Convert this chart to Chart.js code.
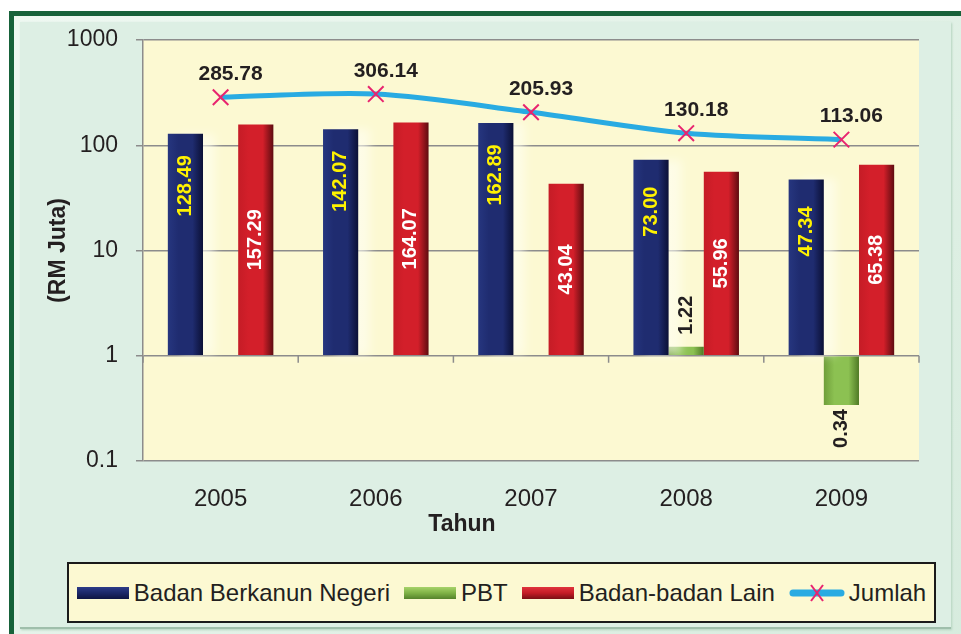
<!DOCTYPE html>
<html>
<head>
<meta charset="utf-8">
<script src="https://cdn.jsdelivr.net/npm/chart.js@4.4.1/dist/chart.umd.min.js"></script>
<style>
html, body { margin: 0; padding: 0; background: #fff; width: 961px; height: 634px; overflow: hidden; font-family: "Liberation Sans", Arial, sans-serif; }
#frame { position: absolute; left: 9px; top: 11px; width: 990px; height: 650px; border-left: 5px solid #17623a; border-top: 5px solid #17623a; background: linear-gradient(135deg, #eef8f1, #d6ebdd); }
#panel { position: absolute; left: 20px; top: 22px; width: 931px; height: 605px; background: #ddefe4; border-bottom: 2px solid #9fbfab; box-shadow: 1px 1px 2px #b4d3bf; }
#wrap { position: absolute; left: 0; top: 0; width: 961px; height: 634px; }
#legend { position: absolute; left: 67px; top: 562px; width: 865px; height: 57px; border: 2px solid #1a1a1a; background: #fcf9d2; display: flex; align-items: center; justify-content: center; font-size: 24px; color: #231f20; white-space: nowrap; }
#legend .sw { display: inline-block; width: 52px; height: 12px; margin-right: 5px; }
#legend .item { display: flex; align-items: center; margin-right: 14px; }
#legend .item:last-child { margin-right: 0; }
</style>
</head>
<body>
<div id="frame"></div>
<div id="panel"></div>
<div id="wrap"><canvas id="myChart" width="961" height="634"></canvas></div>
<div id="legend"></div>
<script>
const years = ['2005', '2006', '2007', '2008', '2009'];
const badanBerkanun = [128.49, 142.07, 162.89, 73.00, 47.34];
const pbt = [null, null, null, 1.22, 0.34];
const badanLain = [157.29, 164.07, 43.04, 55.96, 65.38];
const jumlah = [285.78, 306.14, 205.93, 130.18, 113.06];
const yTicks = [0.1, 1, 10, 100, 1000];

const TEXT = '#231f20';
const GRID = '#8c8c8c';
const CAT_PCT = 0.68;
const FONT = '"Liberation Sans", Arial, sans-serif';

Chart.defaults.font.family = FONT;
Chart.defaults.color = TEXT;

// horizontal gradient per bar, dark right edge like the 3d look
function barFill(edge, mid, dark) {
    return function(c) {
        const ch = c.chart, xs = ch.scales.x;
        if (c.type !== 'data' || !ch.chartArea || !xs) return mid;
        const w = (xs.right - xs.left) / years.length * CAT_PCT / 3;
        const cx = xs.getPixelForValue(c.dataIndex) + (c.datasetIndex - 1) * w;
        const g = ch.ctx.createLinearGradient(cx - w / 2, 0, cx + w / 2, 0);
        g.addColorStop(0, edge);
        g.addColorStop(0.3, mid);
        g.addColorStop(0.7, mid);
        g.addColorStop(1, dark);
        return g;
    };
}

const plotBg = {
    id: 'plotBg',
    beforeDraw(chart) {
        const a = chart.chartArea, ctx = chart.ctx;
        ctx.save();
        ctx.fillStyle = '#fcf9d2';
        ctx.fillRect(a.left, a.top, a.right - a.left, a.bottom - a.top);
        ctx.restore();
    }
};

// category tick marks sit on the value-1 line, x title a bit left of centre
const axisExtras = {
    id: 'axisExtras',
    beforeDatasetsDraw(chart) {
        const xs = chart.scales.x, ys = chart.scales.y, ctx = chart.ctx;
        const y1 = ys.getPixelForValue(1);
        const step = (xs.right - xs.left) / years.length;
        ctx.save();
        ctx.strokeStyle = GRID;
        ctx.lineWidth = 1.5;
        for (let k = 0; k <= years.length; k++) {
            const x = xs.left + k * step;
            ctx.beginPath();
            ctx.moveTo(x, y1);
            ctx.lineTo(x, y1 + 7);
            ctx.stroke();
        }
        ctx.fillStyle = TEXT;
        ctx.font = 'bold 23px ' + FONT;
        ctx.textAlign = 'center';
        ctx.textBaseline = 'middle';
        ctx.fillText('Tahun', (xs.left + xs.right) / 2 - 69, xs.bottom - 16);
        ctx.restore();
    }
};

// soft pale glow to the right of the blue bars
const barGlow = {
    id: 'barGlow',
    beforeDatasetDraw(chart, args) {
        if (args.index !== 0) return;
        const ctx = chart.ctx;
        ctx.save();
        ctx.shadowColor = 'rgba(255,255,245,0.6)';
        ctx.shadowBlur = 9;
        ctx.shadowOffsetX = 12;
        ctx.shadowOffsetY = 0;
    },
    afterDatasetDraw(chart, args) {
        if (args.index !== 0) return;
        chart.ctx.restore();
    }
};

const valueLabels = {
    id: 'valueLabels',
    afterDatasetsDraw(chart) {
        const ctx = chart.ctx;
        chart.data.datasets.forEach((ds, di) => {
            const meta = chart.getDatasetMeta(di);
            const mode = ds.labelMode;
            if (!mode) return;
            meta.data.forEach((el, i) => {
                const v = ds.data[i];
                if (v == null) return;
                const txt = v.toFixed(2);
                ctx.save();
                ctx.textAlign = 'center';
                ctx.textBaseline = 'middle';
                ctx.fillStyle = ds.labelColor;
                if (mode === 'line') {
                    ctx.font = 'bold 21px ' + FONT;
                    ctx.fillText(txt, el.x + 10, el.y - 23);
                } else {
                    ctx.font = 'bold 20px ' + FONT;
                    const tw = ctx.measureText(txt).width;
                    let cy;
                    if (mode === 'upper') cy = el.y + 52;
                    else if (mode === 'middle') cy = (el.y + el.base) / 2;
                    else cy = v >= 1 ? el.y - 12 - tw / 2 : el.y + 4 + tw / 2;
                    ctx.translate(el.x, cy);
                    ctx.rotate(-Math.PI / 2);
                    ctx.fillText(txt, 0, 0);
                }
                ctx.restore();
            });
        });
    }
};

const ctx = document.getElementById('myChart');

let myChart = new Chart(ctx, {
    type: 'bar',
    data: {
        labels: years,
        datasets: [{
            label: 'Badan Berkanun Negeri',
            data: badanBerkanun,
            backgroundColor: barFill('#26367f', '#1f2c70', '#0b1036'),
            labelMode: 'upper',
            labelColor: '#fff200'
        }, {
            label: 'PBT',
            data: pbt,
            backgroundColor: barFill('#6f9e3a', '#8cc152', '#4f7a25'),
            labelMode: 'outside',
            labelColor: TEXT
        }, {
            label: 'Badan-badan Lain',
            data: badanLain,
            backgroundColor: barFill('#c51c26', '#d31f2a', '#5e0c10'),
            labelMode: 'middle',
            labelColor: '#ffffff'
        }, {
            type: 'line',
            label: 'Jumlah',
            data: jumlah,
            order: -1,
            borderColor: '#29abe2',
            backgroundColor: '#29abe2',
            borderWidth: 5,
            tension: 0.3,
            fill: false,
            pointStyle: 'crossRot',
            pointRadius: 11,
            pointBorderColor: '#e8246f',
            pointBackgroundColor: '#e8246f',
            pointBorderWidth: 2,
            labelMode: 'line',
            labelColor: TEXT
        }]
    },
    options: {
        responsive: false,
        animation: false,
        layout: { padding: { left: 0, right: 42, top: 40, bottom: 93 } },
        datasets: {
            bar: { base: 1, barPercentage: 1, categoryPercentage: CAT_PCT, borderWidth: 0 }
        },
        plugins: {
            legend: { display: false },
            tooltip: { enabled: false }
        },
        scales: {
            x: {
                grid: { display: false, drawTicks: false },
                border: { display: false },
                afterFit: s => { s.height = 80; },
                ticks: { color: TEXT, font: { size: 24 }, padding: 24 }
            },
            y: {
                type: 'logarithmic',
                min: 0.1,
                max: 1000,
                afterBuildTicks: s => { s.ticks = yTicks.map(v => ({ value: v })); },
                afterFit: s => { s.width = 143; },
                grid: { color: GRID, lineWidth: 1.5, tickLength: 7 },
                border: { color: GRID, width: 1.5 },
                ticks: { color: TEXT, font: { size: 23 }, padding: 18, callback: v => String(v) },
                title: {
                    display: true,
                    text: '(RM Juta)',
                    color: TEXT,
                    font: { size: 23, weight: 'bold' },
                    padding: { top: 45, bottom: 0 }
                }
            }
        }
    },
    plugins: [plotBg, axisExtras, barGlow, valueLabels]
});

// legend in a bordered box, like the original
const swatches = [
    'linear-gradient(to bottom, #2c3c88, #1b2768 50%, #0e1442)',
    'linear-gradient(to bottom, #a6d36a, #7fb246 50%, #55822c)',
    'linear-gradient(to bottom, #e0333c, #c41c26 50%, #7a0f14)'
];
const legendEl = document.getElementById('legend');
myChart.data.datasets.forEach((ds, i) => {
    const item = document.createElement('div');
    item.className = 'item';
    if (ds.type === 'line') {
        item.innerHTML = '<svg width="56" height="22" style="margin-right:4px">' +
            '<line x1="4" y1="11" x2="52" y2="11" stroke="#29abe2" stroke-width="7" stroke-linecap="round"/>' +
            '<line x1="22" y1="3" x2="34" y2="19" stroke="#e8246f" stroke-width="2"/>' +
            '<line x1="34" y1="3" x2="22" y2="19" stroke="#e8246f" stroke-width="2"/></svg>';
    } else {
        item.innerHTML = '<span class="sw" style="background:' + swatches[i] + '"></span>';
    }
    item.appendChild(document.createTextNode(ds.label));
    legendEl.appendChild(item);
});
</script>
</body>
</html>
